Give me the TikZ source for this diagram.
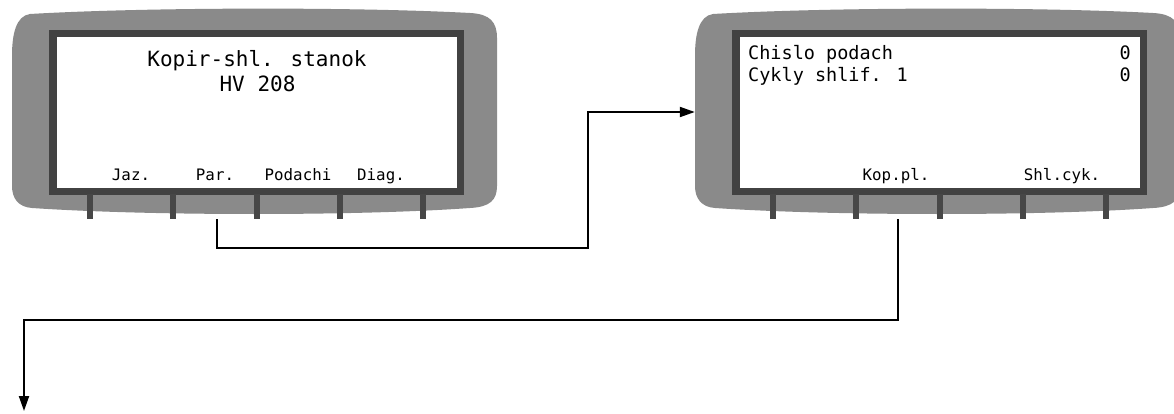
\documentclass[tikz,border=0pt]{standalone}
\usepackage{fontspec}
\usetikzlibrary{arrows.meta,calc}
\newfontfamily\lcdmono{DejaVu Sans Mono}

\definecolor{bodygray}{HTML}{8A8A8A}
\definecolor{framegray}{HTML}{424242}
\definecolor{keygray}{HTML}{474747}

\tikzset{
  bodyshape/.style={fill=bodygray},
  framebox/.style={fill=framegray},
  screenbox/.style={fill=white},
  keytick/.style={draw=keygray, line width=5.5pt},
  titletext/.style={font=\lcdmono\fontsize{21}{25}\selectfont, inner sep=0pt, anchor=base},
  linetext/.style={font=\lcdmono\fontsize{18.5}{22}\selectfont, inner sep=0pt},
  softkey/.style={font=\lcdmono\fontsize{15.8}{18}\selectfont, inner sep=0pt, anchor=base},
  conn/.style={draw=black, line width=2pt, -{Triangle[length=15pt,width=10pt]}},
}

% one operator panel: grey housing, dark frame, white screen, five key ticks
\newcommand\lcdpanel[2]{%
  \begin{scope}[shift={(#1,0)}]
    \path[bodyshape] (30,14) .. controls (150,7) and (360,7) .. (470,13)
      .. controls (490,14) and (497,22) .. (497,38) -- (497,186)
      .. controls (497,200) and (490,207) .. (470,208)
      .. controls (360,216) and (150,216) .. (32,208)
      .. controls (18,207) and (12,198) .. (12,186) -- (12,56)
      .. controls (12,34) and (16,16) .. (30,14) -- cycle;
    \path[framebox] (49,30) rectangle (464,195);
    \path[screenbox] (57,37) rectangle (457,188);
    \foreach \kx [count=\ki] in {90,173,257,340,423}
      \draw[keytick] (\kx,194) -- (\kx,219);
    \node[inner sep=0pt, minimum width=485pt, minimum height=210pt] (#2) at (254.5,113) {};
  \end{scope}}

\begin{document}
\begin{tikzpicture}[x=1pt,y=-1pt]
  \clip (0,0) rectangle (1174,414);
  \fill[white] (0,0) rectangle (1174,414);

  % start screen
  \lcdpanel{0}{p1}
  \node[titletext] (t1) at (257,67) {Kopir-shl. stanok};
  \node[titletext] (t2) at (257.5,92) {HV 208};
  \node[softkey] (k1a) at (131,180) {Jaz.};
  \node[softkey] (k1b) at (215,180) {Par.};
  \node[softkey] (k1c) at (298,180) {Podachi};
  \node[softkey] (k1d) at (381,180) {Diag.};

  % parameter screen
  \lcdpanel{683}{p2}
  \node[linetext, anchor=base west] (r1) at (748,60) {Chislo podach};
  \node[linetext, anchor=base west] (r2) at (748,82) {Cykly shlif. 1};
  \node[linetext, anchor=base east] (v1) at (1131,60) {0};
  \node[linetext, anchor=base east] (v2) at (1131,82) {0};
  \node[softkey] (k2b) at (896,180) {Kop.pl.};
  \node[softkey] (k2d) at (1062,180) {Shl.cyk.};

  % connectors
  \coordinate (p1out) at (217,219);
  \coordinate (p2out) at (898,219);
  \coordinate (nextscreen) at (24,411);
  \draw[conn] (p1out) |- (588,248) |- (p2.west |- 0,112);
  \draw[conn] (p2out) |- (nextscreen |- 0,320) -- (nextscreen);
\end{tikzpicture}
\end{document}
